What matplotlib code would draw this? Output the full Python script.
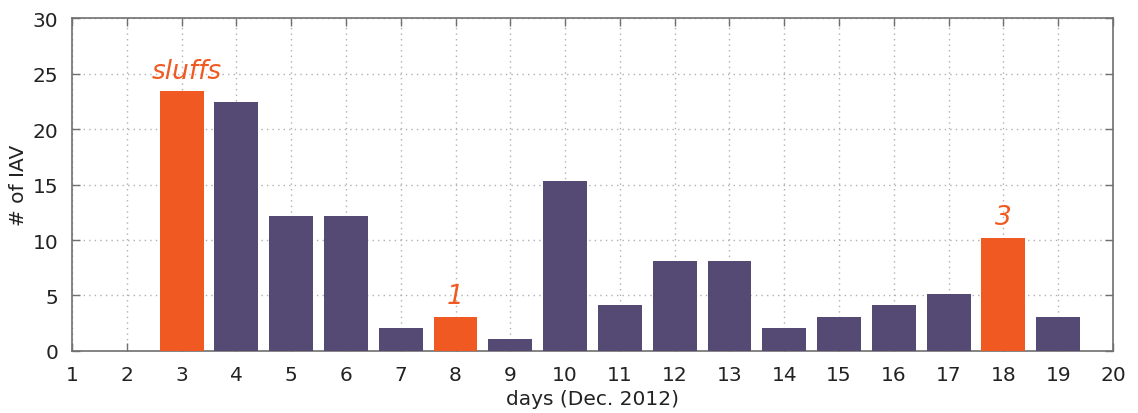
import matplotlib.pyplot as plt
import numpy as np

# IAV counts per day, December 2012
days = [3, 4, 5, 6, 7, 8, 9, 10, 11, 12, 13, 14, 15, 16, 17, 18, 19]
counts = [23.4, 22.4, 12.2, 12.2, 2.1, 3.1, 1.1, 15.3, 4.1, 8.1, 8.1, 2.1, 3.1, 4.1, 5.1, 10.2, 3.1]
# days with sluff events, and their labels
sluff_days = [3, 8, 18]
sluff_labels = ["sluffs", "1", "3"]

purple = "#544a74"
orange = "#f05a22"

fig = plt.figure(figsize=(11.38, 4.14), dpi=100, facecolor="white")
ax = fig.add_axes([0.0633, 0.1498, 0.9147, 0.8042])

colors = [orange if d in sluff_days else purple for d in days]
bars = ax.bar(days, counts, width=0.8, color=colors, zorder=3)

for d, lab in zip(sluff_days, sluff_labels):
    h = counts[days.index(d)]
    ax.text(d + (0.1 if lab == "sluffs" else 0), h + 0.7, lab, color=orange,
            fontsize=19, style="italic", ha="center", va="bottom", zorder=4)

ax.set_xlim(1, 20)
ax.set_ylim(0, 30)
ax.set_xticks(np.arange(1, 21))
ax.set_yticks(np.arange(0, 31, 5))
ax.grid(True, linestyle=(0, (1, 3)), color="#b0b0b0", linewidth=1.0, zorder=0)

for s in ax.spines.values():
    s.set_color("#707070")
    s.set_linewidth(1.2)

ax.tick_params(direction="in", length=6, width=1, color="#707070",
               top=True, right=True, labelsize=14.5, pad=10, labelcolor="#222222")
ax.set_xlabel("days (Dec. 2012)", fontsize=14.5, color="#222222", labelpad=4)
ax.set_ylabel("# of IAV", fontsize=14.5, color="#222222", labelpad=3)

fig.savefig("out.png", dpi=100, facecolor="white")
